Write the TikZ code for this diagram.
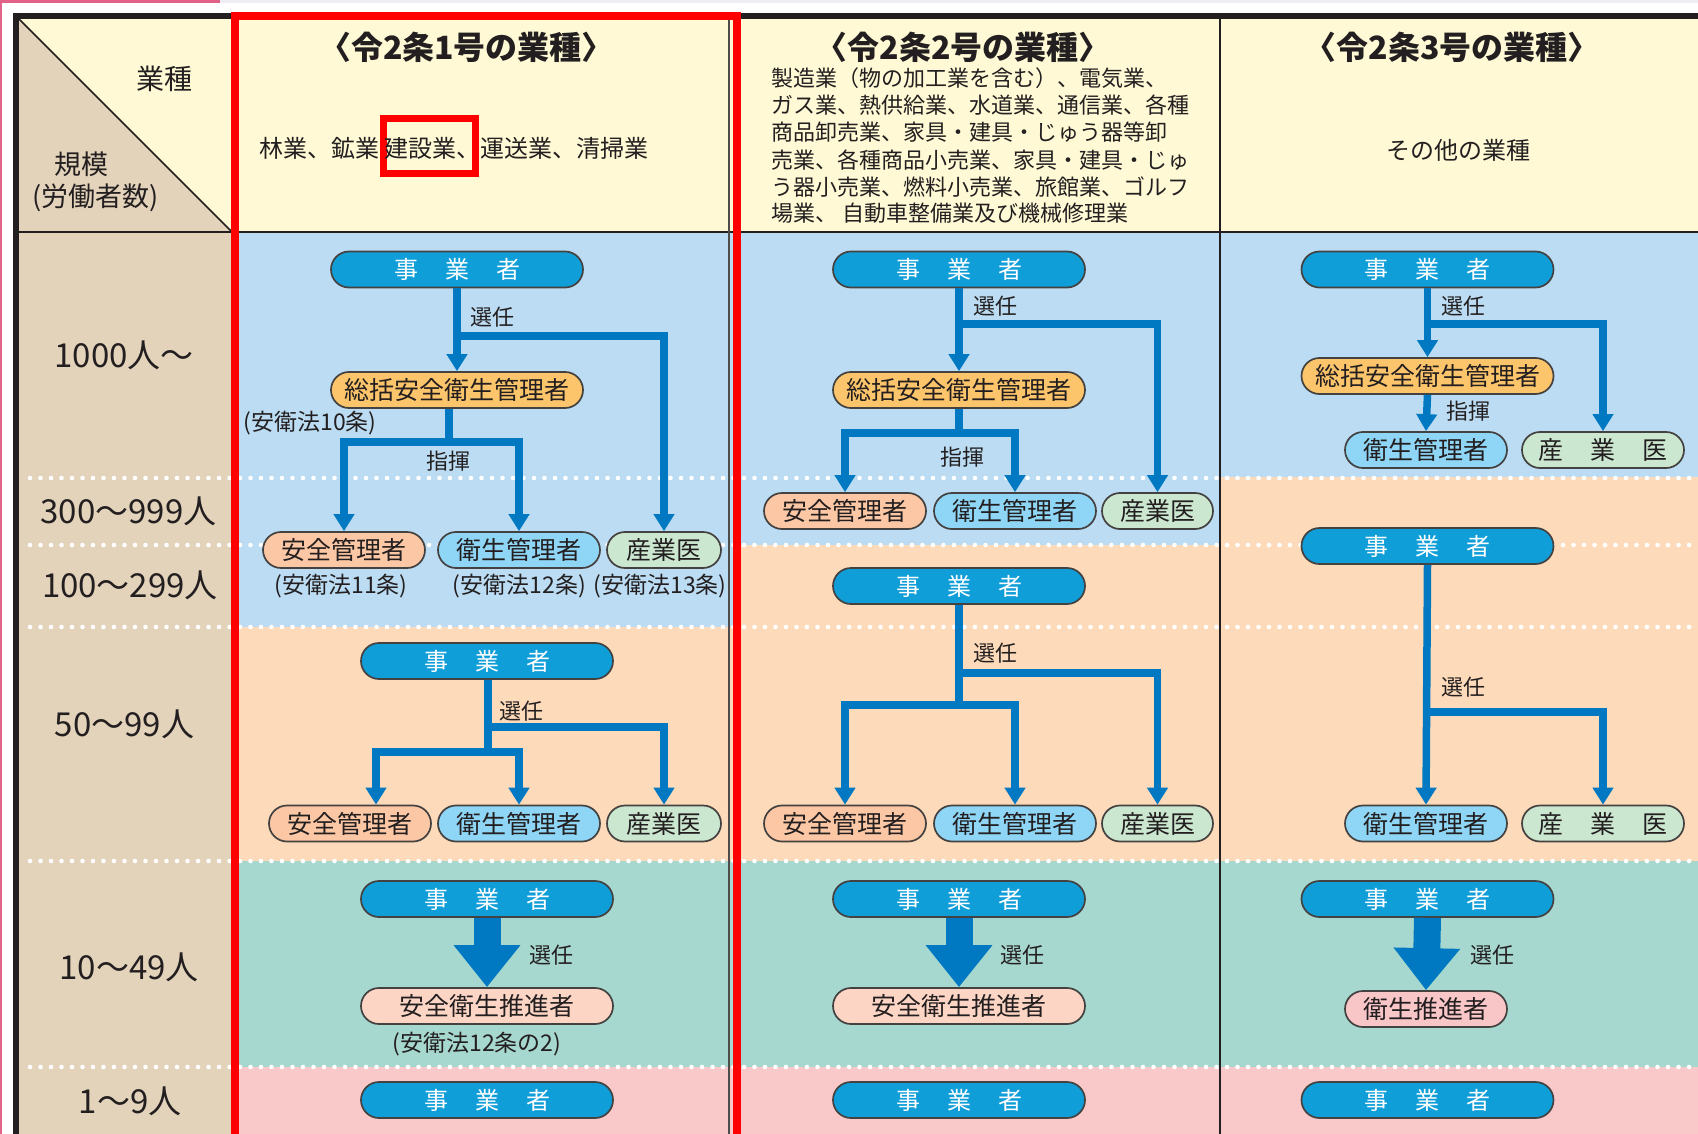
\documentclass[tikz,border=0pt]{standalone}
\usepackage{fontspec}
\setmainfont{Noto Sans CJK JP}
\usetikzlibrary{arrows.meta,shapes.misc}
\definecolor{ink}{HTML}{231F20}
\definecolor{beige}{HTML}{E3D3BB}
\definecolor{hdr}{HTML}{FFFAD5}
\definecolor{bandblue}{HTML}{BBDCF2}
\definecolor{bandpeach}{HTML}{FDDAB9}
\definecolor{bandteal}{HTML}{A6D8CF}
\definecolor{bandpink}{HTML}{F9C9C9}
\definecolor{jigc}{HTML}{109ED9}
\definecolor{arrblue}{HTML}{0079C2}
\definecolor{soukc}{HTML}{FDC56B}
\definecolor{anzc}{HTML}{FCC7A5}
\definecolor{eisc}{HTML}{8FD6F6}
\definecolor{sanc}{HTML}{CCE7D0}
\definecolor{suic}{HTML}{FCD5C5}
\definecolor{esuic}{HTML}{F9C6C8}
\definecolor{edgepink}{HTML}{E2628A}
\definecolor{edgegray}{HTML}{EDEDF2}
\newcommand\fpx[1]{\fontsize{#1pt}{#1pt}\selectfont}
\begin{document}
\begin{tikzpicture}[x=1pt,y=-1pt,
  pill/.style={rounded rectangle, draw=ink!85, line width=1.7pt, inner sep=0pt,
    minimum height=36pt, font=\fpx{25}, text=ink},
  jig/.style={pill, fill=jigc, minimum width=252pt, text=white, font=\fpx{24}},
  souk/.style={pill, fill=soukc, minimum width=252pt},
  anz/.style={pill, fill=anzc, minimum width=162pt},
  eis/.style={pill, fill=eisc, minimum width=162pt},
  san/.style={pill, fill=sanc, minimum width=114pt},
  sui/.style={pill, fill=suic, minimum width=252pt},
  esui/.style={pill, fill=esuic, minimum width=162pt},
  lbl/.style={font=\fpx{22}, text=ink, inner sep=0pt},
  capt/.style={font=\fpx{23}, text=ink, inner sep=0pt},
  side/.style={font=\fpx{33}, text=ink, inner sep=0pt},
  ttl/.style={font=\fpx{32}\bfseries, text=ink, inner sep=0pt},
  desc/.style={font=\fpx{22}, text=ink, inner sep=0pt, anchor=west},
  tline/.style={draw=arrblue, line width=7.5pt},
  arr/.style={tline, -{Triangle[width=20pt,length=17pt]}},
  bigarr/.style={draw=arrblue, line width=27pt, -{Triangle[width=64pt,length=42pt]}},
  dots/.style={white, line width=4.6pt, line cap=round, dash pattern=on 0pt off 10.5pt}]
\useasboundingbox (0,0) rectangle (1698,1134);
\fill[white] (0,0) rectangle (1698,1134);
\fill[edgepink] (0,0) rectangle (220,3);
\fill[edgegray] (220,0) rectangle (1698,3);
\fill[edgepink] (0,0) rectangle (2,1134);
% label column and header
\fill[beige] (16,16) rectangle (233,1134);
\fill[hdr] (19,19) -- (233,19) -- (233,232) -- cycle;
\fill[hdr] (233,16) rectangle (1698,232);
% bands
\fill[bandblue] (233,232) rectangle (737,627);
\fill[bandpeach] (233,627) rectangle (737,861);
\fill[bandblue] (737,232) rectangle (1220,545);
\fill[bandpeach] (737,545) rectangle (1220,861);
\fill[bandblue] (1220,232) rectangle (1698,477);
\fill[bandpeach] (1220,477) rectangle (1698,861);
\fill[bandteal] (233,861) rectangle (1698,1067);
\fill[bandpink] (233,1067) rectangle (1698,1134);
% diagonal
\draw[ink, line width=1.5pt] (19,19) -- (232,232);
% dotted separators
\foreach \yy in {478,545,627,861,1067} \draw[dots] (30,\yy) -- (1698,\yy);
% grid
\draw[ink, line width=2pt] (16,232) -- (1698,232);
\draw[ink!80, line width=1.5pt] (729,16) -- (729,1134);
\draw[ink, line width=2pt] (1220,16) -- (1220,1134);
\draw[ink, line width=6pt] (13,16) -- (1698,16);
\draw[ink, line width=6pt] (16,13) -- (16,1134);
% red highlight
\draw[red, line width=8pt, line join=miter] (235,1134) -- (235,16.5) -- (737,16.5) -- (737,1134);
\draw[red, line width=7pt] (383,119) rectangle (475,174);

% header texts
\node[font=\fpx{28}, text=ink, inner sep=0pt] (hg) at (164.5,79) {業種};
\node[font=\fpx{27}, text=ink, inner sep=0pt] (hk) at (81,164) {規模};
\node[font=\fpx{27}, text=ink, inner sep=0pt] (hr) at (95.5,197.5) {(労働者数)};
\node[ttl] (t1) at (466.5,47) {〈令2条1号の業種〉};
\node[ttl] (t2) at (963,47) {〈令2条2号の業種〉};
\node[ttl] (t3) at (1452,47) {〈令2条3号の業種〉};
\node[font=\fpx{24}, text=ink, inner sep=0pt] (g1) at (454,148) {林業、鉱業 建設業、運送業、清掃業};
\node[desc] (d1) at (771,78) {製造業（物の加工業を含む）、電気業、};
\node[desc] (d2) at (771,105) {ガス業、熱供給業、水道業、通信業、各種};
\node[desc] (d3) at (771,132) {商品卸売業、家具・建具・じゅう器等卸};
\node[desc] (d4) at (771,160) {売業、各種商品小売業、家具・建具・じゅ};
\node[desc] (d5) at (771,187) {う器小売業、燃料小売業、旅館業、ゴルフ};
\node[desc] (d6) at (771,213) {場業、 自動車整備業及び機械修理業};
\node[font=\fpx{24}, text=ink, inner sep=0pt] (g3) at (1458,150) {その他の業種};

% side labels
\node[side] (s1000) at (124,355) {1000人〜};
\node[side] (s300) at (128.5,511) {300〜999人};
\node[side] (s100) at (130,585) {100〜299人};
\node[side] (s50) at (124.5,724) {50〜99人};
\node[side] (s10) at (129,967) {10〜49人};
\node[side] (s1) at (130,1101) {1〜9人};

% ---------- column 1 ----------
\node[jig] (a1j) at (457,269.5) {事\hspace{27pt}業\hspace{27pt}者};
\node[souk] (a1s) at (457,390) {総括安全衛生管理者};
\node[anz] (a1an) at (344,550) {安全管理者};
\node[eis] (a1ei) at (519,550) {衛生管理者};
\node[san] (a1sa) at (664,550) {産業医};
\node[capt] (a1c10) at (310,423) {(安衛法10条)};
\node[capt] (a1c11) at (341,586) {(安衛法11条)};
\node[capt] (a1c12) at (519.5,586) {(安衛法12条)};
\node[capt] (a1c13) at (660,586) {(安衛法13条)};
\coordinate (a1b) at (457,336);
\coordinate (a1k) at (449,442);
\draw[arr] (a1j.south) -- (a1s.north);
\draw[arr] (a1b) -| (a1sa.north);
\draw[tline] ([xshift=-8pt]a1s.south) -- (a1k);
\draw[arr] (a1k) -| (a1an.north);
\draw[arr] (a1k) -| (a1ei.north);
\node[lbl] (a1l1) at (492,317) {選任};
\node[lbl] (a1l2) at (448,461) {指揮};

\node[jig] (a5j) at (487,661) {事\hspace{27pt}業\hspace{27pt}者};
\node[anz] (a5an) at (350,823.5) {安全管理者};
\node[eis] (a5ei) at (519,823.5) {衛生管理者};
\node[san] (a5sa) at (664,823.5) {産業医};
\coordinate (a5b) at (488,727);
\coordinate (a5k) at (488,752);
\draw[tline] (a5j.south -| a5k) -- (a5k);
\draw[arr] (a5b) -| (a5sa.north);
\draw[arr] (a5k) -| ([xshift=26pt]a5an.north);
\draw[arr] (a5k) -| (a5ei.north);
\node[lbl] (a5l) at (521,711) {選任};

\node[jig] (a9j) at (487,899) {事\hspace{27pt}業\hspace{27pt}者};
\node[sui] (a9s) at (487,1006) {安全衛生推進者};
\draw[bigarr] (a9j.south) -- (a9s.north);
\node[lbl] (a9l) at (551,955) {選任};
\node[capt] (a9c) at (477,1044) {(安衛法12条の2)};

\node[jig] (a0j) at (487,1100) {事\hspace{27pt}業\hspace{27pt}者};

% ---------- column 2 ----------
\node[jig] (b1j) at (959,269.5) {事\hspace{27pt}業\hspace{27pt}者};
\node[souk] (b1s) at (959,390) {総括安全衛生管理者};
\node[anz] (b1an) at (845,511) {安全管理者};
\node[eis] (b1ei) at (1015,511) {衛生管理者};
\node[san, minimum width=111pt] (b1sa) at (1157.5,511) {産業医};
\coordinate (b1b) at (959,324);
\coordinate (b1k) at (959,433);
\draw[arr] (b1j.south) -- (b1s.north);
\draw[arr] (b1b) -| (b1sa.north);
\draw[tline] (b1s.south) -- (b1k);
\draw[arr] (b1k) -| (b1an.north);
\draw[arr] (b1k) -| (b1ei.north);
\node[lbl] (b1l1) at (995,306) {選任};
\node[lbl] (b1l2) at (962,457) {指揮};

\node[jig] (b5j) at (959,586) {事\hspace{27pt}業\hspace{27pt}者};
\node[anz] (b5an) at (845,823.5) {安全管理者};
\node[eis] (b5ei) at (1015,823.5) {衛生管理者};
\node[san, minimum width=111pt] (b5sa) at (1157.5,823.5) {産業医};
\coordinate (b5b) at (959,673);
\coordinate (b5k) at (959,705);
\draw[tline] (b5j.south) -- (b5k);
\draw[arr] (b5b) -| (b5sa.north);
\draw[arr] (b5k) -| (b5an.north);
\draw[arr] (b5k) -| (b5ei.north);
\node[lbl] (b5l) at (995,653) {選任};

\node[jig] (b9j) at (959,899) {事\hspace{27pt}業\hspace{27pt}者};
\node[sui] (b9s) at (959,1006) {安全衛生推進者};
\draw[bigarr] (b9j.south) -- (b9s.north);
\node[lbl] (b9l) at (1022,955) {選任};

\node[jig] (b0j) at (959,1100) {事\hspace{27pt}業\hspace{27pt}者};

% ---------- column 3 ----------
\node[jig] (c1j) at (1427.5,269.5) {事\hspace{27pt}業\hspace{27pt}者};
\node[souk] (c1s) at (1427.5,376) {総括安全衛生管理者};
\node[eis] (c1ei) at (1426,450) {衛生管理者};
\node[san, minimum width=162pt] (c1sa) at (1603,450) {産\hspace{27pt}業\hspace{27pt}医};
\coordinate (c1b) at (1427.5,324);
\draw[arr] (c1j.south) -- (c1s.north);
\draw[arr] (c1b) -| (c1sa.north);
\draw[arr] (c1s.south) -- (c1ei.north);
\node[lbl] (c1l1) at (1463,306) {選任};
\node[lbl] (c1l2) at (1468,411) {指揮};

\node[jig] (c3j) at (1427.5,546) {事\hspace{27pt}業\hspace{27pt}者};
\node[eis] (c3ei) at (1426,823.5) {衛生管理者};
\node[san, minimum width=162pt] (c3sa) at (1603,823.5) {産\hspace{27pt}業\hspace{27pt}医};
\coordinate (c3b) at (1427.5,712);
\draw[arr] (c3j.south) -- (c3ei.north);
\draw[arr] (c3b) -| (c3sa.north);
\node[lbl] (c3l) at (1463,687) {選任};

\node[jig] (c9j) at (1427.5,899) {事\hspace{27pt}業\hspace{27pt}者};
\node[esui] (c9s) at (1426,1009) {衛生推進者};
\draw[bigarr] (c9j.south) -- (c9s.north);
\node[lbl] (c9l) at (1492,955) {選任};

\node[jig] (c0j) at (1427.5,1100) {事\hspace{27pt}業\hspace{27pt}者};
\end{tikzpicture}
\end{document}
